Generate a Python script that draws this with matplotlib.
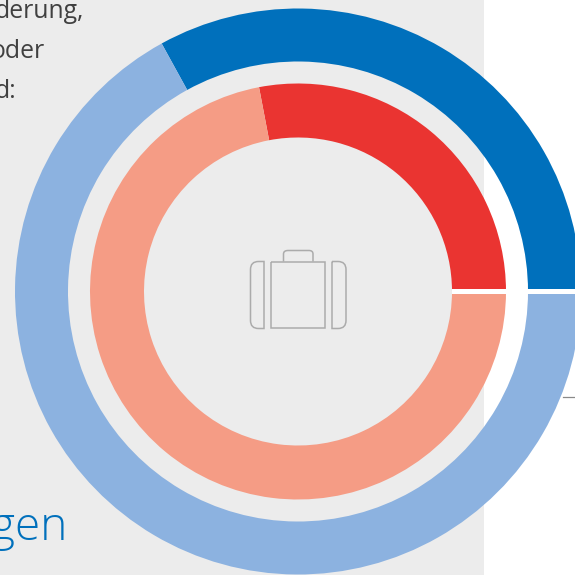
import matplotlib
matplotlib.use('Agg')
import matplotlib.pyplot as plt
from matplotlib.patches import Rectangle, PathPatch
from matplotlib.path import Path

# Values (percent)
outer_values = [33, 67]
inner_values = [28, 72]
outer_colors = ['#0070bc', '#8cb2e0']
inner_colors = ['#ea3431', '#f59c85']

grey = '#ececec'
text_col = '#404040'
blue_text = '#0070bc'
icon_col = '#ababab'

plt.rcParams['font.family'] = ['Open Sans', 'DejaVu Sans']

S = 575
cx, cy = 298, S - 291.5


def Y(y):
    # pixel row in the image -> data y
    return S - y


fig = plt.figure(figsize=(5.75, 5.75), dpi=100, facecolor='white')
ax = fig.add_axes([0, 0, 1, 1])

# Grey panel behind the left part
ax.add_patch(Rectangle((0, 0), 484, S, facecolor=grey, edgecolor='none', zorder=0))

# The two rings
ax.pie(outer_values, colors=outer_colors, startangle=0, counterclock=True,
       radius=283, center=(cx, cy), wedgeprops=dict(width=53, linewidth=0))
ax.pie(inner_values, colors=inner_colors, startangle=0, counterclock=True,
       radius=208, center=(cx, cy), wedgeprops=dict(width=54, linewidth=0))

ax.set_xlim(0, S)
ax.set_ylim(0, S)
ax.set_aspect('equal')
ax.axis('off')

# White gap at the start angle of both rings
ax.add_patch(Rectangle((452, cy - 2.5), S - 452, 5, facecolor='white', edgecolor='none', zorder=5))

# Thin leader line on the right
ax.plot([563, 575], [Y(396.5), Y(396.5)], color='#8a8a8a', lw=0.9, zorder=5)

# Left text, cut off by the image edge
ax.text(83.5, Y(18), 'derung,', ha='right', va='baseline', fontsize=17.8, color=text_col, zorder=6)
ax.text(44.5, Y(58), 'oder', ha='right', va='baseline', fontsize=17.8, color=text_col, zorder=6)
ax.text(16.5, Y(98), 'd:', ha='right', va='baseline', fontsize=17.8, color=text_col, zorder=6)
ax.text(67, Y(540), 'gen', ha='right', va='baseline', fontsize=33, color=blue_text,
        fontweight='light', zorder=6)


# Suitcase icon
def rounded(x0, x1, y0, y1, r_left, r_right):
    t, b = Y(y0), Y(y1)
    v = [(x0 + r_left, t), (x1 - r_right, t)]
    c = [Path.MOVETO, Path.LINETO]
    if r_right:
        v += [(x1, t), (x1, t - r_right)]
        c += [Path.CURVE3, Path.CURVE3]
    v += [(x1, b + r_right)]
    c += [Path.LINETO]
    if r_right:
        v += [(x1, b), (x1 - r_right, b)]
        c += [Path.CURVE3, Path.CURVE3]
    v += [(x0 + r_left, b)]
    c += [Path.LINETO]
    if r_left:
        v += [(x0, b), (x0, b + r_left)]
        c += [Path.CURVE3, Path.CURVE3]
    v += [(x0, t - r_left)]
    c += [Path.LINETO]
    if r_left:
        v += [(x0, t), (x0 + r_left, t)]
        c += [Path.CURVE3, Path.CURVE3]
    return Path(v, c)


icon_kw = dict(facecolor='none', edgecolor=icon_col, lw=1.1, zorder=6)
ax.add_patch(PathPatch(rounded(250.5, 264, 261.5, 328.5, 8, 0), **icon_kw))
ax.add_patch(PathPatch(rounded(271, 325, 261.5, 328, 0, 0), **icon_kw))
ax.add_patch(PathPatch(rounded(332, 346, 261.5, 328.5, 0, 8), **icon_kw))
handle = Path([(283.5, Y(261.5)), (283.5, Y(254)), (283.5, Y(250.5)), (288, Y(250.5)),
               (309, Y(250.5)), (313, Y(250.5)), (313, Y(254)), (313, Y(261.5))],
              [Path.MOVETO, Path.LINETO, Path.CURVE3, Path.CURVE3,
               Path.LINETO, Path.CURVE3, Path.CURVE3, Path.LINETO])
ax.add_patch(PathPatch(handle, **icon_kw))

fig.savefig('out.png', dpi=100)
